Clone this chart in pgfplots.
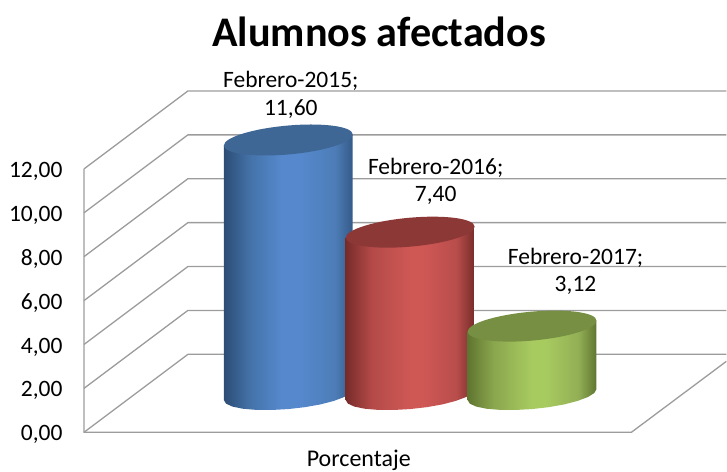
\documentclass[border=0pt]{standalone}
\usepackage{fontspec}
\setmainfont{Carlito}
\usepackage{pgfplots}
\pgfplotsset{compat=1.18}
\definecolor{gridc}{HTML}{9C9C9C}
\definecolor{blue1}{HTML}{2C4D75}\definecolor{blue2}{HTML}{4472A8}\definecolor{blue3}{HTML}{5588CC}\definecolor{blue4}{HTML}{4D7DB8}\definecolor{blue5}{HTML}{355A88}
\definecolor{red1}{HTML}{772C2A}\definecolor{red2}{HTML}{B34A48}\definecolor{red3}{HTML}{CF5855}\definecolor{red4}{HTML}{B84D4B}\definecolor{red5}{HTML}{772C2A}
\definecolor{green1}{HTML}{5F7530}\definecolor{green2}{HTML}{8AA64E}\definecolor{green3}{HTML}{A8CB60}\definecolor{green4}{HTML}{92AF55}\definecolor{green5}{HTML}{5F7530}
\definecolor{topblue}{HTML}{3F6796}\definecolor{topred}{HTML}{8C3836}\definecolor{topgreen}{HTML}{778F42}
\pgfdeclarehorizontalshading{bluecyl}{100bp}{color(0bp)=(blue1);color(25bp)=(blue1);color(35bp)=(blue2);color(47bp)=(blue3);color(55bp)=(blue3);color(68bp)=(blue4);color(75bp)=(blue5);color(100bp)=(blue5)}
\pgfdeclarehorizontalshading{redcyl}{100bp}{color(0bp)=(red1);color(25bp)=(red1);color(35bp)=(red2);color(50bp)=(red3);color(55bp)=(red3);color(68bp)=(red4);color(75bp)=(red5);color(100bp)=(red5)}
\pgfdeclarehorizontalshading{greencyl}{100bp}{color(0bp)=(green1);color(25bp)=(green1);color(35bp)=(green2);color(50bp)=(green3);color(55bp)=(green3);color(68bp)=(green4);color(75bp)=(green5);color(100bp)=(green5)}
\newcommand{\cylpath}{\pgfpathellipse{\pgfpointorigin}{\pgfqpoint{64.5pt}{5.5pt}}{\pgfqpoint{0pt}{14.5pt}}}
\pgfdeclareplotmark{topb}{\cylpath\pgfsetfillcolor{topblue}\pgfusepathqfill}
\pgfdeclareplotmark{topr}{\cylpath\pgfsetfillcolor{topred}\pgfusepathqfill}
\pgfdeclareplotmark{topg}{\cylpath\pgfsetfillcolor{topgreen}\pgfusepathqfill}
\begin{document}
\begin{tikzpicture}
\begin{axis}[
  scale only axis, width=727pt, height=472pt,
  xmin=0, xmax=727, ymin=-1.789, ymax=19.695,
  clip=false,
  axis line style={draw=none}, major tick length=0pt,
  xtick=\empty, ytick={0,2,4,6,8,10,12},
  yticklabel style={anchor=east,xshift=66pt,yshift=-2.5pt,font=\fontsize{23.5}{23.5}\selectfont},
  yticklabel={\pgfmathprintnumber[fixed,fixed zerofill,precision=2,use comma,assume math mode=true]{\tick}},
]
% walls
\addplot[gridc,line width=1.3pt] coordinates {(84,0)(188,3.55)(727,3.55)};
\addplot[gridc,line width=1.3pt] coordinates {(84,2)(188,5.55)(727,5.55)};
\addplot[gridc,line width=1.3pt] coordinates {(84,4)(188,7.55)(727,7.55)};
\addplot[gridc,line width=1.3pt] coordinates {(84,6)(188,9.55)(727,9.55)};
\addplot[gridc,line width=1.3pt] coordinates {(84,8)(188,11.55)(727,11.55)};
\addplot[gridc,line width=1.3pt] coordinates {(84,10)(188,13.55)(727,13.55)};
\addplot[gridc,line width=1.3pt] coordinates {(84,12)(188,15.55)(727,15.55)};
\addplot[gridc,line width=1.3pt] coordinates {(84,12)(84,0)(632,0)(727,3.23)};
% cylinders
\addplot[draw=none,shading=bluecyl,mark=none] table[y expr=\thisrow{v}+1.716] {
x v
224 11.35
224 -0.250
226.2 -0.413
232.6 -0.547
242.9 -0.644
256.25 -0.697
271.8 -0.702
288.5 -0.660
305.2 -0.573
320.75 -0.447
334.1 -0.289
344.4 -0.113
350.8 0.071
353 0.250
353 11.85
};
\addplot[only marks,mark=topb] table[y expr=\thisrow{v}+1.716] {
x v
288.5 11.6
};
\addplot[draw=none,shading=redcyl,mark=none] table[y expr=\thisrow{v}+1.716] {
x v
346 7.15
346 -0.250
348.2 -0.413
354.6 -0.547
364.9 -0.644
378.25 -0.697
393.8 -0.702
410.5 -0.660
427.2 -0.573
442.75 -0.447
456.1 -0.289
466.4 -0.113
472.8 0.071
475 0.250
475 7.65
};
\addplot[only marks,mark=topr] table[y expr=\thisrow{v}+1.716] {
x v
410.5 7.4
};
\addplot[draw=none,shading=greencyl,mark=none] table[y expr=\thisrow{v}+1.716] {
x v
468 2.87
468 -0.250
470.2 -0.413
476.6 -0.547
486.9 -0.644
500.25 -0.697
515.8 -0.702
532.5 -0.660
549.2 -0.573
564.75 -0.447
578.1 -0.289
588.4 -0.113
594.8 0.071
597 0.250
597 3.37
};
\addplot[only marks,mark=topg] table[y expr=\thisrow{v}+1.716] {
x v
532.5 3.12
};
\tikzset{lab/.style={font=\fontsize{23.5}{23.5}\selectfont,inner sep=0pt}}
\node[lab] at (axis cs:291,15.99) {Febrero-2015;};
\node[lab] at (axis cs:291,14.74) {11,60};
\node[lab] at (axis cs:436,12.05) {Febrero-2016;};
\node[lab] at (axis cs:436,10.77) {7,40};
\node[lab] at (axis cs:576,7.95) {Febrero-2017;};
\node[lab] at (axis cs:576,6.67) {3,12};
\node[font=\fontsize{24}{24}\selectfont,inner sep=0pt] at (axis cs:359,-1.27) {Porcentaje};
\node[font=\fontsize{42.2}{42}\selectfont\bfseries,inner sep=0pt] at (axis cs:379.5,18.25) {Alumnos afectados};
\end{axis}
\end{tikzpicture}
\end{document}
